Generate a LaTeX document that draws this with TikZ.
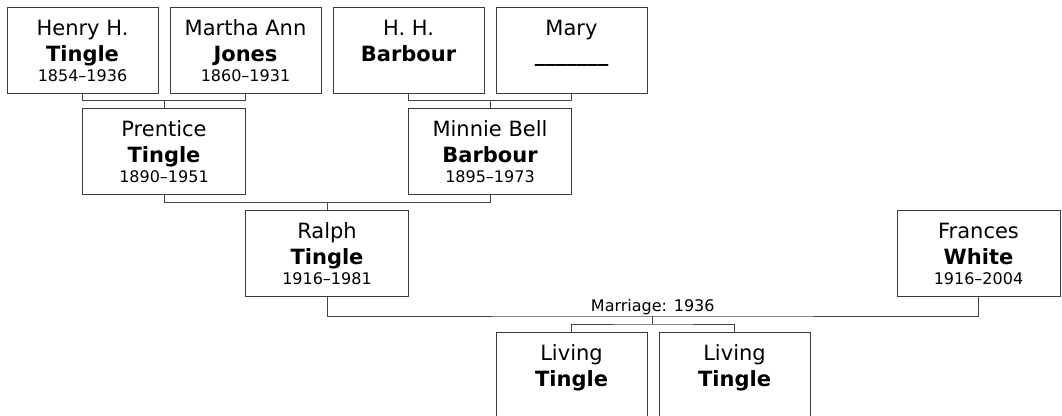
\documentclass[tikz,border=0pt]{standalone}
\usepackage{fontspec}
\setmainfont{DejaVu Sans}
\usepackage{xcolor}
\usetikzlibrary{calc}
\definecolor{boxline}{HTML}{3A3A3A}
\definecolor{treeline}{HTML}{444444}

% one family card: name, centre, width, given name, surname, years
\newcommand{\person}[6]{%
  \node[card, minimum width=#3] (#1) at (#2) {};
  \node[given]   (#1-a) at ([yshift=-28.7pt]#1.north) {#4};
  \node[surname] (#1-b) at ([yshift=-55pt]#1.north) {#5};
  \node[years]   (#1-c) at ([yshift=-75pt]#1.north) {#6};
}

\begin{document}
\begin{tikzpicture}[x=1pt, y=-1pt,
    card/.style={draw=boxline, line width=1pt, fill=white, minimum height=86pt, inner sep=0pt},
    given/.style={anchor=base, inner sep=0pt, font=\fontsize{21}{25}\selectfont},
    surname/.style={given, font=\fontsize{21}{25}\selectfont\bfseries},
    years/.style={given, font=\fontsize{16}{19}\selectfont},
    wedding/.style={anchor=base, inner sep=0pt, font=\fontsize{16}{19}\selectfont},
    link/.style={draw=treeline, line width=1pt}
]
\useasboundingbox (0,0) rectangle (1062,415);

% ---- GRANDPARENTS ----
\person{henry}{82.5,50}{151pt}{Henry H.}{Tingle}{1854–1936}
\person{martha}{245.5,50}{151pt}{Martha Ann}{Jones}{1860–1931}
\person{hhb}{408.5,50}{151pt}{H. H.}{Barbour}{}
\person{mary}{571.5,50}{151pt}{Mary}{\_\_\_\_\_\_\_}{}
\draw[link] (henry.south) -- ++(0,7) -| (martha.south);
\draw[link] (hhb.south) -- ++(0,7) -| (mary.south);

% ---- PARENTS ----
\person{prentice}{164,151}{163pt}{Prentice}{Tingle}{1890–1951}
\person{minnie}{490,151}{163pt}{Minnie Bell}{Barbour}{1895–1973}
\draw[link] (prentice.north) -- ++(0,-8);
\draw[link] (minnie.north) -- ++(0,-8);
\draw[link] (prentice.south) -- ++(0,8) -| (minnie.south);

% ---- COUPLE ----
\person{ralph}{327,253}{163pt}{Ralph}{Tingle}{1916–1981}
\person{frances}{978.5,253}{163pt}{Frances}{White}{1916–2004}
\draw[link] (ralph.north) -- ++(0,-8);
\coordinate (wed) at (652.75,316);
\draw[link] (ralph.south) |- (wed) -| (frances.south);
\node[wedding] (wedlabel) at ([yshift=4.3pt]wed) {Marriage: 1936};

% ---- CHILDREN ----
\person{living1}{571.5,375}{151pt}{Living}{Tingle}{}
\person{living2}{734.5,375}{151pt}{Living}{Tingle}{}
\draw[link] (wed) -- ++(0,8) coordinate (kids);
\draw[link] (living1.north) |- (kids) -| (living2.north);
\end{tikzpicture}
\end{document}
